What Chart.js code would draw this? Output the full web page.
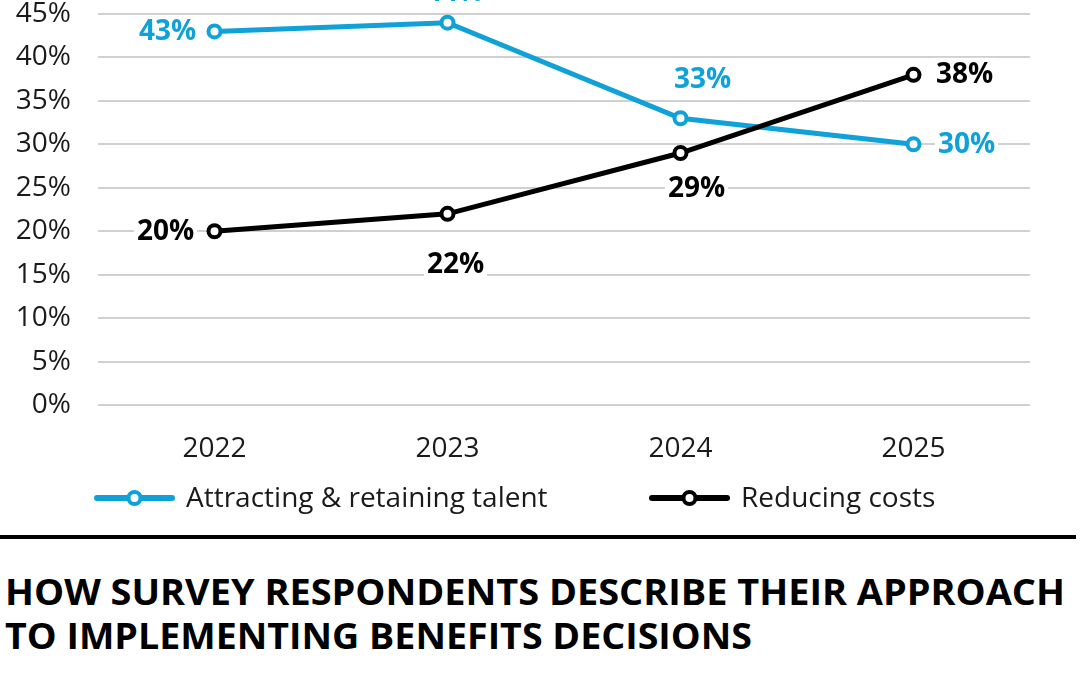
<!DOCTYPE html>
<html>
<head>
<meta charset="utf-8">
<script src="https://cdn.jsdelivr.net/npm/chart.js@4.4.1/dist/chart.umd.min.js"></script>
<style>
  html, body { margin: 0; padding: 0; background: #fff; }
  body { width: 1080px; height: 675px; position: relative; overflow: hidden; font-family: 'Open Sans', 'Noto Sans', sans-serif; }
  #wrap { position: absolute; left: 0; top: 0; width: 1080px; height: 525px; }
  #rule { position: absolute; left: 0; top: 535px; width: 1076px; height: 4px; background: #000; }
  #title { position: absolute; left: 5px; top: 570px; font-weight: 700; font-size: 36px; line-height: 44px; color: #000; white-space: nowrap; }
  #title div { transform-origin: 0 0; }
</style>
</head>
<body>
<div id="wrap"><canvas id="trendChart"></canvas></div>
<div id="rule"></div>
<div id="title">
  <div>HOW SURVEY RESPONDENTS DESCRIBE THEIR APPROACH</div>
  <div>TO IMPLEMENTING BENEFITS DECISIONS</div>
</div>
<script>
const years = ['2022', '2023', '2024', '2025'];
const talentValues = [43, 44, 33, 30];
const costValues = [20, 22, 29, 38];
const seriesNames = ['Attracting & retaining talent', 'Reducing costs'];
const yTicks = [0, 5, 10, 15, 20, 25, 30, 35, 40, 45];

const BLUE = '#0fa1d8';
const BLACK = '#000000';
const FONT = "'Open Sans', 'Noto Sans', sans-serif";

// label centre offsets from each point, in px
const talentLabelOffsets = [[-47, 0], [7, -31], [22, -39], [53, 0]];
const costLabelOffsets = [[-49, 0], [8, 50], [16, 35], [51, -1]];

const valueLabels = {
  id: 'valueLabels',
  afterDatasetsDraw(chart) {
    const ctx = chart.ctx;
    ctx.save();
    ctx.font = 'bold 28px ' + FONT;
    ctx.textBaseline = 'middle';
    ctx.textAlign = 'center';
    chart.data.datasets.forEach((ds, di) => {
      const meta = chart.getDatasetMeta(di);
      meta.data.forEach((pt, i) => {
        const text = ds.data[i] + '%';
        const w = ctx.measureText(text).width;
        const cx = pt.x + ds.labelOffsets[i][0];
        const cy = pt.y + ds.labelOffsets[i][1];
        ctx.fillStyle = '#fff';
        ctx.fillRect(cx - w / 2 - 3, cy - 16, w + 6, 32);
        ctx.fillStyle = ds.borderColor;
        ctx.fillText(text, cx, cy + 1);
      });
    });
    ctx.restore();
  }
};

const lineLegend = {
  id: 'lineLegend',
  afterDraw(chart) {
    const ctx = chart.ctx;
    const y = 498;
    const starts = [97, 652];
    ctx.save();
    chart.data.datasets.forEach((ds, di) => {
      const x0 = starts[di];
      ctx.strokeStyle = ds.borderColor;
      ctx.lineWidth = 6;
      ctx.lineCap = 'round';
      ctx.beginPath();
      ctx.moveTo(x0, y);
      ctx.lineTo(x0 + 75, y);
      ctx.stroke();
      ctx.beginPath();
      ctx.arc(x0 + 37.5, y, 6, 0, Math.PI * 2);
      ctx.fillStyle = '#fff';
      ctx.fill();
      ctx.lineWidth = 4;
      ctx.stroke();
      ctx.fillStyle = '#1a1a1a';
      ctx.font = '28px ' + FONT;
      ctx.textAlign = 'left';
      ctx.textBaseline = 'middle';
      ctx.fillText(ds.label, x0 + 89, y + 1);
    });
    ctx.restore();
  }
};

const ctx = document.getElementById('trendChart');
new Chart(ctx, {
  type: 'line',
  data: {
    labels: years,
    datasets: [
      {
        label: seriesNames[0],
        data: talentValues,
        labelOffsets: talentLabelOffsets,
        borderColor: BLUE,
        backgroundColor: '#fff',
        borderWidth: 5,
        pointRadius: 6,
        pointBorderWidth: 4,
        pointBackgroundColor: '#fff',
        pointBorderColor: BLUE,
        order: 2,
      },
      {
        label: seriesNames[1],
        data: costValues,
        labelOffsets: costLabelOffsets,
        borderColor: BLACK,
        backgroundColor: '#fff',
        borderWidth: 5,
        pointRadius: 6,
        pointBorderWidth: 4,
        pointBackgroundColor: '#fff',
        pointBorderColor: BLACK,
        order: 1,
      },
    ],
  },
  options: {
    responsive: true,
    maintainAspectRatio: false,
    animation: false,
    layout: { padding: { left: 0, right: 50, top: 14, bottom: 0 } },
    plugins: {
      legend: { display: false },
      tooltip: { enabled: false },
    },
    scales: {
      x: {
        offset: true,
        grid: { display: false },
        border: { display: false },
        ticks: { color: '#1a1a1a', font: { family: FONT, size: 28 }, padding: 19 },
        afterFit(scale) {
          scale.height = 120;
          scale.paddingLeft = 0;
          scale.paddingRight = 0;
        },
      },
      y: {
        min: 0,
        max: 45,
        afterBuildTicks(scale) { scale.ticks = yTicks.map((v) => ({ value: v })); },
        grid: { color: '#d0d0d0', lineWidth: 2, drawTicks: false },
        border: { display: false },
        ticks: {
          color: '#1a1a1a',
          font: { family: FONT, size: 28 },
          padding: 27,
          callback: (v) => v + '%',
        },
        afterFit(scale) {
          scale.width = 98;
          scale.paddingTop = 0;
          scale.paddingBottom = 0;
        },
      },
    },
  },
  plugins: [valueLabels, lineLegend],
});

// squeeze the heading lines to the reference width
const lines = document.querySelectorAll('#title div');
const targetWidths = [1060, 747];
lines.forEach((el, i) => {
  const range = document.createRange();
  range.selectNodeContents(el);
  const tw = range.getBoundingClientRect().width;
  el.style.transform = 'scaleX(' + (targetWidths[i] / tw) + ')';
});
</script>
</body>
</html>
